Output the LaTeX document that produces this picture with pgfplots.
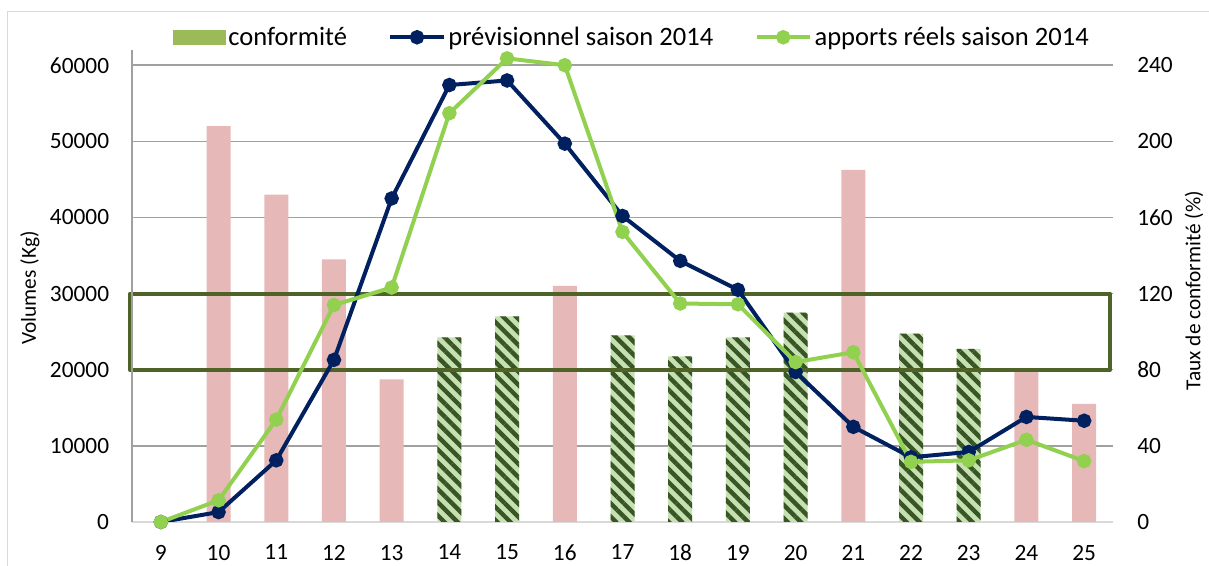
\documentclass[border=0pt]{standalone}
\usepackage{fontspec}
\setmainfont{Carlito}
\usepackage{pgfplots}
\usepackage{pgfplotstable}
\pgfplotsset{compat=1.18}
\usetikzlibrary{patterns.meta}
\definecolor{navy}{HTML}{002060}
\definecolor{lgreen}{HTML}{92D050}
\definecolor{pinkbar}{HTML}{E6B8B7}
\definecolor{hatchbg}{HTML}{C6E0B4}
\definecolor{hatchfg}{HTML}{375623}
\definecolor{boxgreen}{HTML}{4F6228}
\definecolor{leggreen}{HTML}{9BBB59}
\definecolor{gridgray}{HTML}{A0A0A0}
\definecolor{basegray}{HTML}{D9D9D9}

\pgfplotsset{
  linelegend/.style={legend image code/.code={%
    \draw[##1, mark repeat=2, mark phase=2] plot coordinates {(0pt,0pt) (20pt,0pt) (40pt,0pt)};}},
  barlegend/.style={legend image code/.code={%
    \fill[leggreen] (0pt,-5.25pt) rectangle (39pt,5.25pt);}},
}

% bar data: taux de conformite (%)
\pgfplotstableread{
sem taux
10 208
11 172
12 138
13 75
16 124
21 185
24 79
25 62
}\horsnorme
\pgfplotstableread{
sem taux
14 97
15 108
17 98
18 87
19 97
20 110
22 99
23 91
}\conforme

\begin{document}
\begin{tikzpicture}
\useasboundingbox (-99pt,-33pt) rectangle (807.75pt,391.5pt);
\draw[basegray, line width=0.75pt] (-93pt,-33pt) -- (-93pt,382.5pt) -- (807.75pt,382.5pt);

% right axis: bars
\begin{axis}[
  at={(0pt,0pt)}, anchor=south west,
  scale only axis, width=735.75pt, height=354pt,
  xmin=8.5, xmax=25.5, ymin=0, ymax=248,
  axis y line*=right, axis x line*=bottom,
  y axis line style={draw=none},
  x axis line style={draw=basegray, line width=1.2pt, -},
  xtick={9,...,25}, ytick={0,40,...,240},
  major tick length=0pt,
  ymajorgrids, grid style={draw=gridgray, line width=1.1pt},
  ticklabel style={font=\fontsize{17.5}{20}\selectfont},
  /pgf/number format/assume math mode=true,
  yticklabel style={anchor=west, inner sep=0pt, xshift=18pt},
  xticklabel style={anchor=north, inner sep=0pt, yshift=-17pt},
  ylabel={Taux de conformité (\%)},
  every axis y label/.style={at={(axis description cs:1.0826,0.49)}, rotate=90, anchor=center},
  label style={font=\fontsize{16}{18}\selectfont},
  ybar, bar width=18pt,
  clip=false,
]
\addplot[ybar, bar shift=0pt, fill=pinkbar, draw=none] table[x=sem, y=taux] {\horsnorme};
\addplot[ybar, bar shift=0pt, fill=hatchbg, draw=none,
  postaction={pattern={Lines[angle=-45, distance=7pt, line width=3.3pt]}, pattern color=hatchfg}]
  table[x=sem, y=taux] {\conforme};
\draw[boxgreen, line width=3pt, line join=round] (axis cs:8.465,80) rectangle (axis cs:25.45,120);
\end{axis}

% left axis: volumes
\begin{axis}[
  at={(0pt,0pt)}, anchor=south west,
  scale only axis, width=735.75pt, height=354pt,
  xmin=8.5, xmax=25.5, ymin=0, ymax=62000,
  axis y line*=left, axis x line=none,
  y axis line style={draw=gridgray, line width=1.1pt, -},
  ytick={0,10000,...,60000},
  scaled y ticks=false,
  major tick length=0pt,
  /pgf/number format/1000 sep={},
  /pgf/number format/assume math mode=true,
  ticklabel style={font=\fontsize{17.5}{20}\selectfont},
  yticklabel style={anchor=east, inner sep=0pt, xshift=-17pt},
  ylabel={Volumes (Kg)},
  every axis y label/.style={at={(axis description cs:-0.104,0.496)}, rotate=90, anchor=center},
  label style={font=\fontsize{16}{18}\selectfont},
  legend columns=3,
  legend cell align=left,
  legend style={at={(axis description cs:0.51,1.027)}, anchor=center,
    draw=none, fill=none, inner sep=0pt,
    font=\fontsize{19.9}{22}\selectfont,
    nodes={inner sep=2pt},
    /tikz/every even column/.append style={column sep=29pt}},
]
\addlegendimage{barlegend}
\addlegendentry{conformité}
\addplot[navy, line width=3pt, mark=*, mark size=3.9pt, linelegend]
  coordinates {(9,0) (10,1300) (11,8100) (12,21300) (13,42500) (14,57400) (15,58000) (16,49700)
  (17,40200) (18,34300) (19,30500) (20,19700) (21,12500) (22,8500) (23,9200) (24,13800) (25,13300)};
\addlegendentry{prévisionnel saison 2014}
\addplot[lgreen, line width=3pt, mark=*, mark size=3.9pt, linelegend]
  coordinates {(9,0) (10,2850) (11,13450) (12,28500) (13,30800) (14,53700) (15,60900) (16,60000)
  (17,38100) (18,28700) (19,28600) (20,21000) (21,22300) (22,7900) (23,8100) (24,10800) (25,8000)};
\addlegendentry{apports réels saison 2014}
\end{axis}
\end{tikzpicture}
\end{document}
